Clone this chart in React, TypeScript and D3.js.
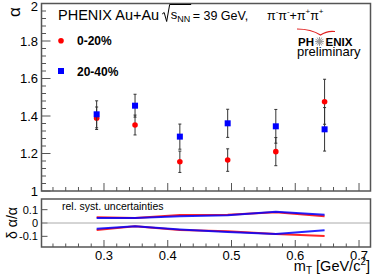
import { useEffect, useRef } from 'react';
import * as d3 from 'd3';

// m_T bin centres (GeV/c^2)
const mT = [0.2885, 0.3487, 0.419, 0.494, 0.5695, 0.646];

// alpha, 0-20% centrality
const alphaCentral = [1.388, 1.352, 1.156, 1.165, 1.21, 1.476];
const errCentral = [0.06, 0.053, 0.057, 0.06, 0.075, 0.12];

// alpha, 20-40% centrality
const alphaMid = [1.409, 1.455, 1.29, 1.361, 1.345, 1.329];
const errMid = [0.072, 0.061, 0.067, 0.075, 0.09, 0.116];

// relative systematic uncertainties (upper / lower edges)
const systCentralUp = [0.043, 0.038, 0.06, 0.062, 0.08, 0.05];
const systCentralLo = [-0.053, -0.025, -0.053, -0.062, -0.083, -0.098];
const systMidUp = [0.038, 0.038, 0.05, 0.058, 0.085, 0.062];
const systMidLo = [-0.043, -0.025, -0.048, -0.068, -0.083, -0.055];

const xTicks = [0.3, 0.4, 0.5, 0.6, 0.7];
const yTicks = [1, 1.2, 1.4, 1.6, 1.8, 2];
const ratioTicks = [0.1, 0, -0.1];

const FONT = '"Liberation Sans", Arial, sans-serif';
const RED = '#ff0000';
const BLUE = '#0000ff';
const AXIS = '#555';

export default function App() {
  const svgRef = useRef<SVGSVGElement | null>(null);

  useEffect(() => {
    if (!svgRef.current) return;
    const svg = d3.select(svgRef.current);
    svg.selectAll('*').remove();

    const left = 41.5,
      right = 370.5;
    const x = d3.scaleLinear().domain([0.202, 0.718]).range([left, right]);
    const y = d3.scaleLinear().domain([1, 2]).range([191, 3.5]);
    const yr = d3.scaleLinear().domain([-0.18, 0.18]).range([247, 199]);

    svg.append('rect').attr('width', 374).attr('height', 277).attr('fill', 'white');

    // x ticks for both panels
    const minor = d3.range(0.22, 0.7201, 0.02).filter((v) => x(v) > left + 1 && x(v) < right - 1);
    const drawXTicks = (base: number, majLen: number, minLen: number) => {
      minor.forEach((v) => {
        const isMaj = xTicks.some((t) => Math.abs(t - v) < 1e-6);
        svg
          .append('line')
          .attr('x1', x(v))
          .attr('x2', x(v))
          .attr('y1', base)
          .attr('y2', base - (isMaj ? majLen : minLen))
          .attr('stroke', AXIS)
          .attr('stroke-width', 1);
      });
    };
    drawXTicks(191, 8, 4);
    drawXTicks(247, 7, 3.5);

    // y ticks, top panel
    d3.range(1, 2.0001, 0.04).forEach((v) => {
      const isMaj = yTicks.some((t) => Math.abs(t - v) < 1e-6);
      svg
        .append('line')
        .attr('x1', left)
        .attr('x2', left + (isMaj ? 9 : 4.5))
        .attr('y1', y(v))
        .attr('y2', y(v))
        .attr('stroke', AXIS)
        .attr('stroke-width', 1);
    });
    yTicks.forEach((v) => {
      svg
        .append('text')
        .attr('x', 38)
        .attr('y', Math.max(y(v) + 4.5, 10.5))
        .attr('text-anchor', 'end')
        .attr('font-family', FONT)
        .attr('font-size', 13)
        .text(v === 1 || v === 2 ? String(v) : v.toFixed(1));
    });

    // ratio panel y ticks
    ratioTicks.forEach((v) => {
      svg
        .append('line')
        .attr('x1', left)
        .attr('x2', left + 6)
        .attr('y1', yr(v))
        .attr('y2', yr(v))
        .attr('stroke', AXIS)
        .attr('stroke-width', 1);
      svg
        .append('text')
        .attr('x', 38)
        .attr('y', yr(v) + 4)
        .attr('text-anchor', 'end')
        .attr('font-family', FONT)
        .attr('font-size', 11)
        .text(v === 0 ? '0' : v.toFixed(1));
    });

    // zero line
    svg
      .append('line')
      .attr('x1', left)
      .attr('x2', right)
      .attr('y1', yr(0))
      .attr('y2', yr(0))
      .attr('stroke', '#aaa')
      .attr('stroke-width', 1);

    // frames
    svg
      .append('rect')
      .attr('x', left)
      .attr('y', y(2))
      .attr('width', right - left)
      .attr('height', y(1) - y(2))
      .attr('fill', 'none')
      .attr('stroke', AXIS)
      .attr('stroke-width', 1.5);
    svg
      .append('rect')
      .attr('x', left)
      .attr('y', yr(0.18))
      .attr('width', right - left)
      .attr('height', yr(-0.18) - yr(0.18))
      .attr('fill', 'none')
      .attr('stroke', AXIS)
      .attr('stroke-width', 1.5);

    // x tick labels
    xTicks.forEach((v) => {
      svg
        .append('text')
        .attr('x', x(v))
        .attr('y', 260)
        .attr('text-anchor', 'middle')
        .attr('font-family', FONT)
        .attr('font-size', 13)
        .text(v.toFixed(1));
    });

    // axis titles
    const xt = svg
      .append('text')
      .attr('x', 370)
      .attr('y', 271)
      .attr('text-anchor', 'end')
      .attr('font-family', FONT)
      .attr('font-size', 14.5);
    xt.append('tspan').text('m');
    xt.append('tspan').attr('font-size', 10).attr('dy', 3).text('T');
    xt.append('tspan').attr('dy', -3).text(' [GeV/c');
    xt.append('tspan').attr('font-size', 10).attr('dy', -6).text('2');
    xt.append('tspan').attr('dy', 6).text(']');

    svg
      .append('text')
      .attr('transform', 'translate(20,12) rotate(-90)')
      .attr('text-anchor', 'middle')
      .attr('font-family', FONT)
      .attr('font-size', 17)
      .text('α');
    svg
      .append('text')
      .attr('transform', 'translate(16.5,223) rotate(-90)')
      .attr('text-anchor', 'middle')
      .attr('font-family', FONT)
      .attr('font-size', 14)
      .text('δ α/α');

    // header: segments chained by measured width
    const width = (t: d3.Selection<SVGTextElement, unknown, null, undefined>) =>
      (t.node() as SVGTextElement).getComputedTextLength();
    const h1 = svg
      .append('text')
      .attr('x', 58)
      .attr('y', 20)
      .attr('font-family', FONT)
      .attr('font-size', 14.5)
      .text('PHENIX Au+Au');
    let cx = 58 + width(h1) + 3;
    svg
      .append('path')
      .attr('d', `M${cx},14 L${cx + 2},12.5 L${cx + 4.5},21.5 L${cx + 7.5},4.5 L${cx + 29},4.5`)
      .attr('fill', 'none')
      .attr('stroke', 'black')
      .attr('stroke-width', 1);
    cx += 8.5;
    const s = svg.append('text').attr('x', cx).attr('y', 19).attr('font-family', FONT).attr('font-size', 13);
    s.append('tspan').text('s');
    s.append('tspan').attr('font-size', 9).attr('dy', 3).text('NN');
    cx += width(s) + 2.5;
    svg
      .append('text')
      .attr('x', cx)
      .attr('y', 20)
      .attr('font-family', FONT)
      .attr('font-size', 12.5)
      .text('= 39 GeV,');
    const pi = svg.append('text').attr('x', 267).attr('y', 20).attr('font-family', FONT).attr('font-size', 12.5);
    pi.append('tspan').text('π');
    pi.append('tspan').attr('font-size', 8).attr('dy', -6).text('-');
    pi.append('tspan').attr('dy', 6).text('π');
    pi.append('tspan').attr('font-size', 8).attr('dy', -6).text('-');
    pi.append('tspan').attr('dy', 6).text('+π');
    pi.append('tspan').attr('font-size', 8).attr('dy', -6).text('+');
    pi.append('tspan').attr('dy', 6).text('π');
    pi.append('tspan').attr('font-size', 8).attr('dy', -6).text('+');

    // PHENIX logo
    svg
      .append('path')
      .attr('d', 'M297,29 Q311,29 320.5,35 Q327,30.5 335,31.5')
      .attr('fill', 'none')
      .attr('stroke', '#e02020')
      .attr('stroke-width', 1.2);
    svg
      .append('text')
      .attr('x', 298)
      .attr('y', 45.5)
      .attr('font-family', FONT)
      .attr('font-size', 11.5)
      .attr('font-weight', 'bold')
      .text('PH');
    svg
      .append('text')
      .attr('x', 325.5)
      .attr('y', 45.5)
      .attr('font-family', FONT)
      .attr('font-size', 11.5)
      .attr('font-weight', 'bold')
      .text('ENIX');
    d3.range(12).forEach((i) => {
      const a = (i * Math.PI) / 6;
      svg
        .append('line')
        .attr('x1', 319.5)
        .attr('y1', 41.5)
        .attr('x2', 319.5 + 4.5 * Math.cos(a))
        .attr('y2', 41.5 + 4.5 * Math.sin(a))
        .attr('stroke', '#999')
        .attr('stroke-width', 1);
    });
    svg
      .append('text')
      .attr('x', 297)
      .attr('y', 56)
      .attr('font-family', FONT)
      .attr('font-size', 13)
      .text('preliminary');

    // legend
    svg.append('circle').attr('cx', 61).attr('cy', 40.7).attr('r', 2.8).attr('fill', RED);
    svg.append('rect').attr('x', 58).attr('y', 68).attr('width', 6).attr('height', 6).attr('fill', BLUE);
    svg
      .append('text')
      .attr('x', 77)
      .attr('y', 45)
      .attr('font-family', FONT)
      .attr('font-size', 12)
      .attr('font-weight', 'bold')
      .text('0-20%');
    svg
      .append('text')
      .attr('x', 77)
      .attr('y', 75.5)
      .attr('font-family', FONT)
      .attr('font-size', 12)
      .attr('font-weight', 'bold')
      .text('20-40%');

    // error bars + markers
    const drawSeries = (vals: number[], errs: number[], marker: 'circle' | 'square') => {
      const g = svg.append('g');
      mT.forEach((m, i) => {
        const px = x(m);
        const y1 = y(vals[i] + errs[i]);
        const y2 = y(vals[i] - errs[i]);
        g.append('line').attr('x1', px).attr('x2', px).attr('y1', y1).attr('y2', y2).attr('stroke', '#333').attr('stroke-width', 1);
        [y1, y2].forEach((yy) =>
          g.append('line').attr('x1', px - 1.5).attr('x2', px + 1.5).attr('y1', yy).attr('y2', yy).attr('stroke', '#333').attr('stroke-width', 1)
        );
      });
      mT.forEach((m, i) => {
        if (marker === 'circle') {
          g.append('circle').attr('cx', x(m)).attr('cy', y(vals[i])).attr('r', 2.8).attr('fill', RED);
        } else {
          g.append('rect').attr('x', x(m) - 3).attr('y', y(vals[i]) - 3).attr('width', 6).attr('height', 6).attr('fill', BLUE);
        }
      });
    };
    drawSeries(alphaCentral, errCentral, 'circle');
    drawSeries(alphaMid, errMid, 'square');

    // ratio panel
    svg
      .append('text')
      .attr('x', 62)
      .attr('y', 210)
      .attr('font-family', FONT)
      .attr('font-size', 10.5)
      .text('rel. syst. uncertainties');

    const line = d3
      .line<number>()
      .x((_, i) => x(mT[i]))
      .y((d) => yr(d));
    const bands: [number[], string][] = [
      [systCentralUp, RED],
      [systCentralLo, RED],
      [systMidUp, BLUE],
      [systMidLo, BLUE],
    ];
    bands.forEach(([d, c]) => {
      svg
        .append('path')
        .attr('d', line(d)!)
        .attr('fill', 'none')
        .attr('stroke', c)
        .attr('stroke-width', 2)
        .attr('stroke-opacity', 0.85);
    });
  }, []);

  return (
    <svg
      ref={svgRef}
      width={374}
      height={277}
      style={{ position: 'absolute', left: 0, top: 0, display: 'block' }}
    />
  );
}
